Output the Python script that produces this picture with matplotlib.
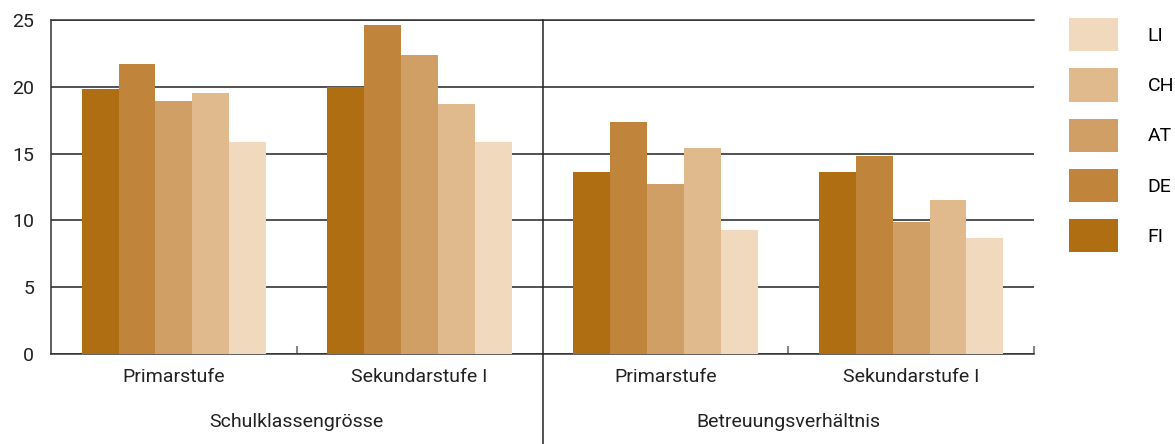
import numpy as np
import matplotlib.pyplot as plt
from matplotlib.lines import Line2D

plt.rcParams['font.family'] = ['Roboto', 'DejaVu Sans']

categories = ['Primarstufe', 'Sekundarstufe I', 'Primarstufe', 'Sekundarstufe I']
groups = ['Schulklassengrösse', 'Betreuungsverhältnis']
countries = ['FI', 'DE', 'AT', 'CH', 'LI']
colors = ['#AF6E12', '#C0843A', '#D09F65', '#E0B98D', '#F0D9BD']

FI = [19.8, 20.0, 13.6, 13.6]
DE = [21.7, 24.6, 17.4, 14.8]
AT = [18.9, 22.4, 12.7, 9.9]
CH = [19.5, 18.7, 15.4, 11.5]
LI = [15.9, 15.9, 9.3, 8.7]
values = [FI, DE, AT, CH, LI]

fig = plt.figure(figsize=(11.75, 4.44), dpi=100)
ax = fig.add_axes([51/1175, 90/444, 983/1175, 334/444])

x = np.arange(len(categories))
w = 0.15
for i, (vals, c, lab) in enumerate(zip(values, colors, countries)):
    ax.bar(x + (i - 2) * w, vals, w, color=c, label=lab, zorder=3, linewidth=0)

ax.set_xlim(-0.5, 3.5)
ax.set_ylim(0, 25)
ax.set_yticks([0, 5, 10, 15, 20, 25])
ax.grid(axis='y', color='#222222', linewidth=1.1, zorder=0)
ax.set_axisbelow(True)

for s in ['left', 'top', 'bottom']:
    ax.spines[s].set_color('#333333')
    ax.spines[s].set_linewidth(1.1)
ax.spines['right'].set_visible(False)

ax.set_xticks(x)
ax.set_xticklabels(categories, fontsize=14, color='#222222')
ax.tick_params(axis='x', which='major', length=0, pad=10)
ax.set_xticks([0.5, 2.5, 3.5], minor=True)
ax.tick_params(axis='x', which='minor', direction='in', length=6, color='#888888', width=1.5)
ax.tick_params(axis='y', length=0, pad=12, labelsize=14, labelcolor='#222222')

# separator between the two blocks
ax.add_line(Line2D([1.5, 1.5], [1, -0.27], transform=ax.get_xaxis_transform(),
                   color='#222222', linewidth=1.1, clip_on=False, zorder=4))

for gx, g in zip([0.5, 2.5], groups):
    ax.text(gx, -0.205, g, transform=ax.get_xaxis_transform(), ha='center', va='center',
            fontsize=14, color='#222222')

h, l = ax.get_legend_handles_labels()
fig.legend(h[::-1], l[::-1], loc='upper left', bbox_to_anchor=(1069/1175, 1 - 18/444),
           frameon=False, fontsize=14, handlelength=2.5, handleheight=2.25,
           labelspacing=0.88, handletextpad=1.55, borderpad=0, borderaxespad=0)

fig.savefig('out.png', dpi=100)
